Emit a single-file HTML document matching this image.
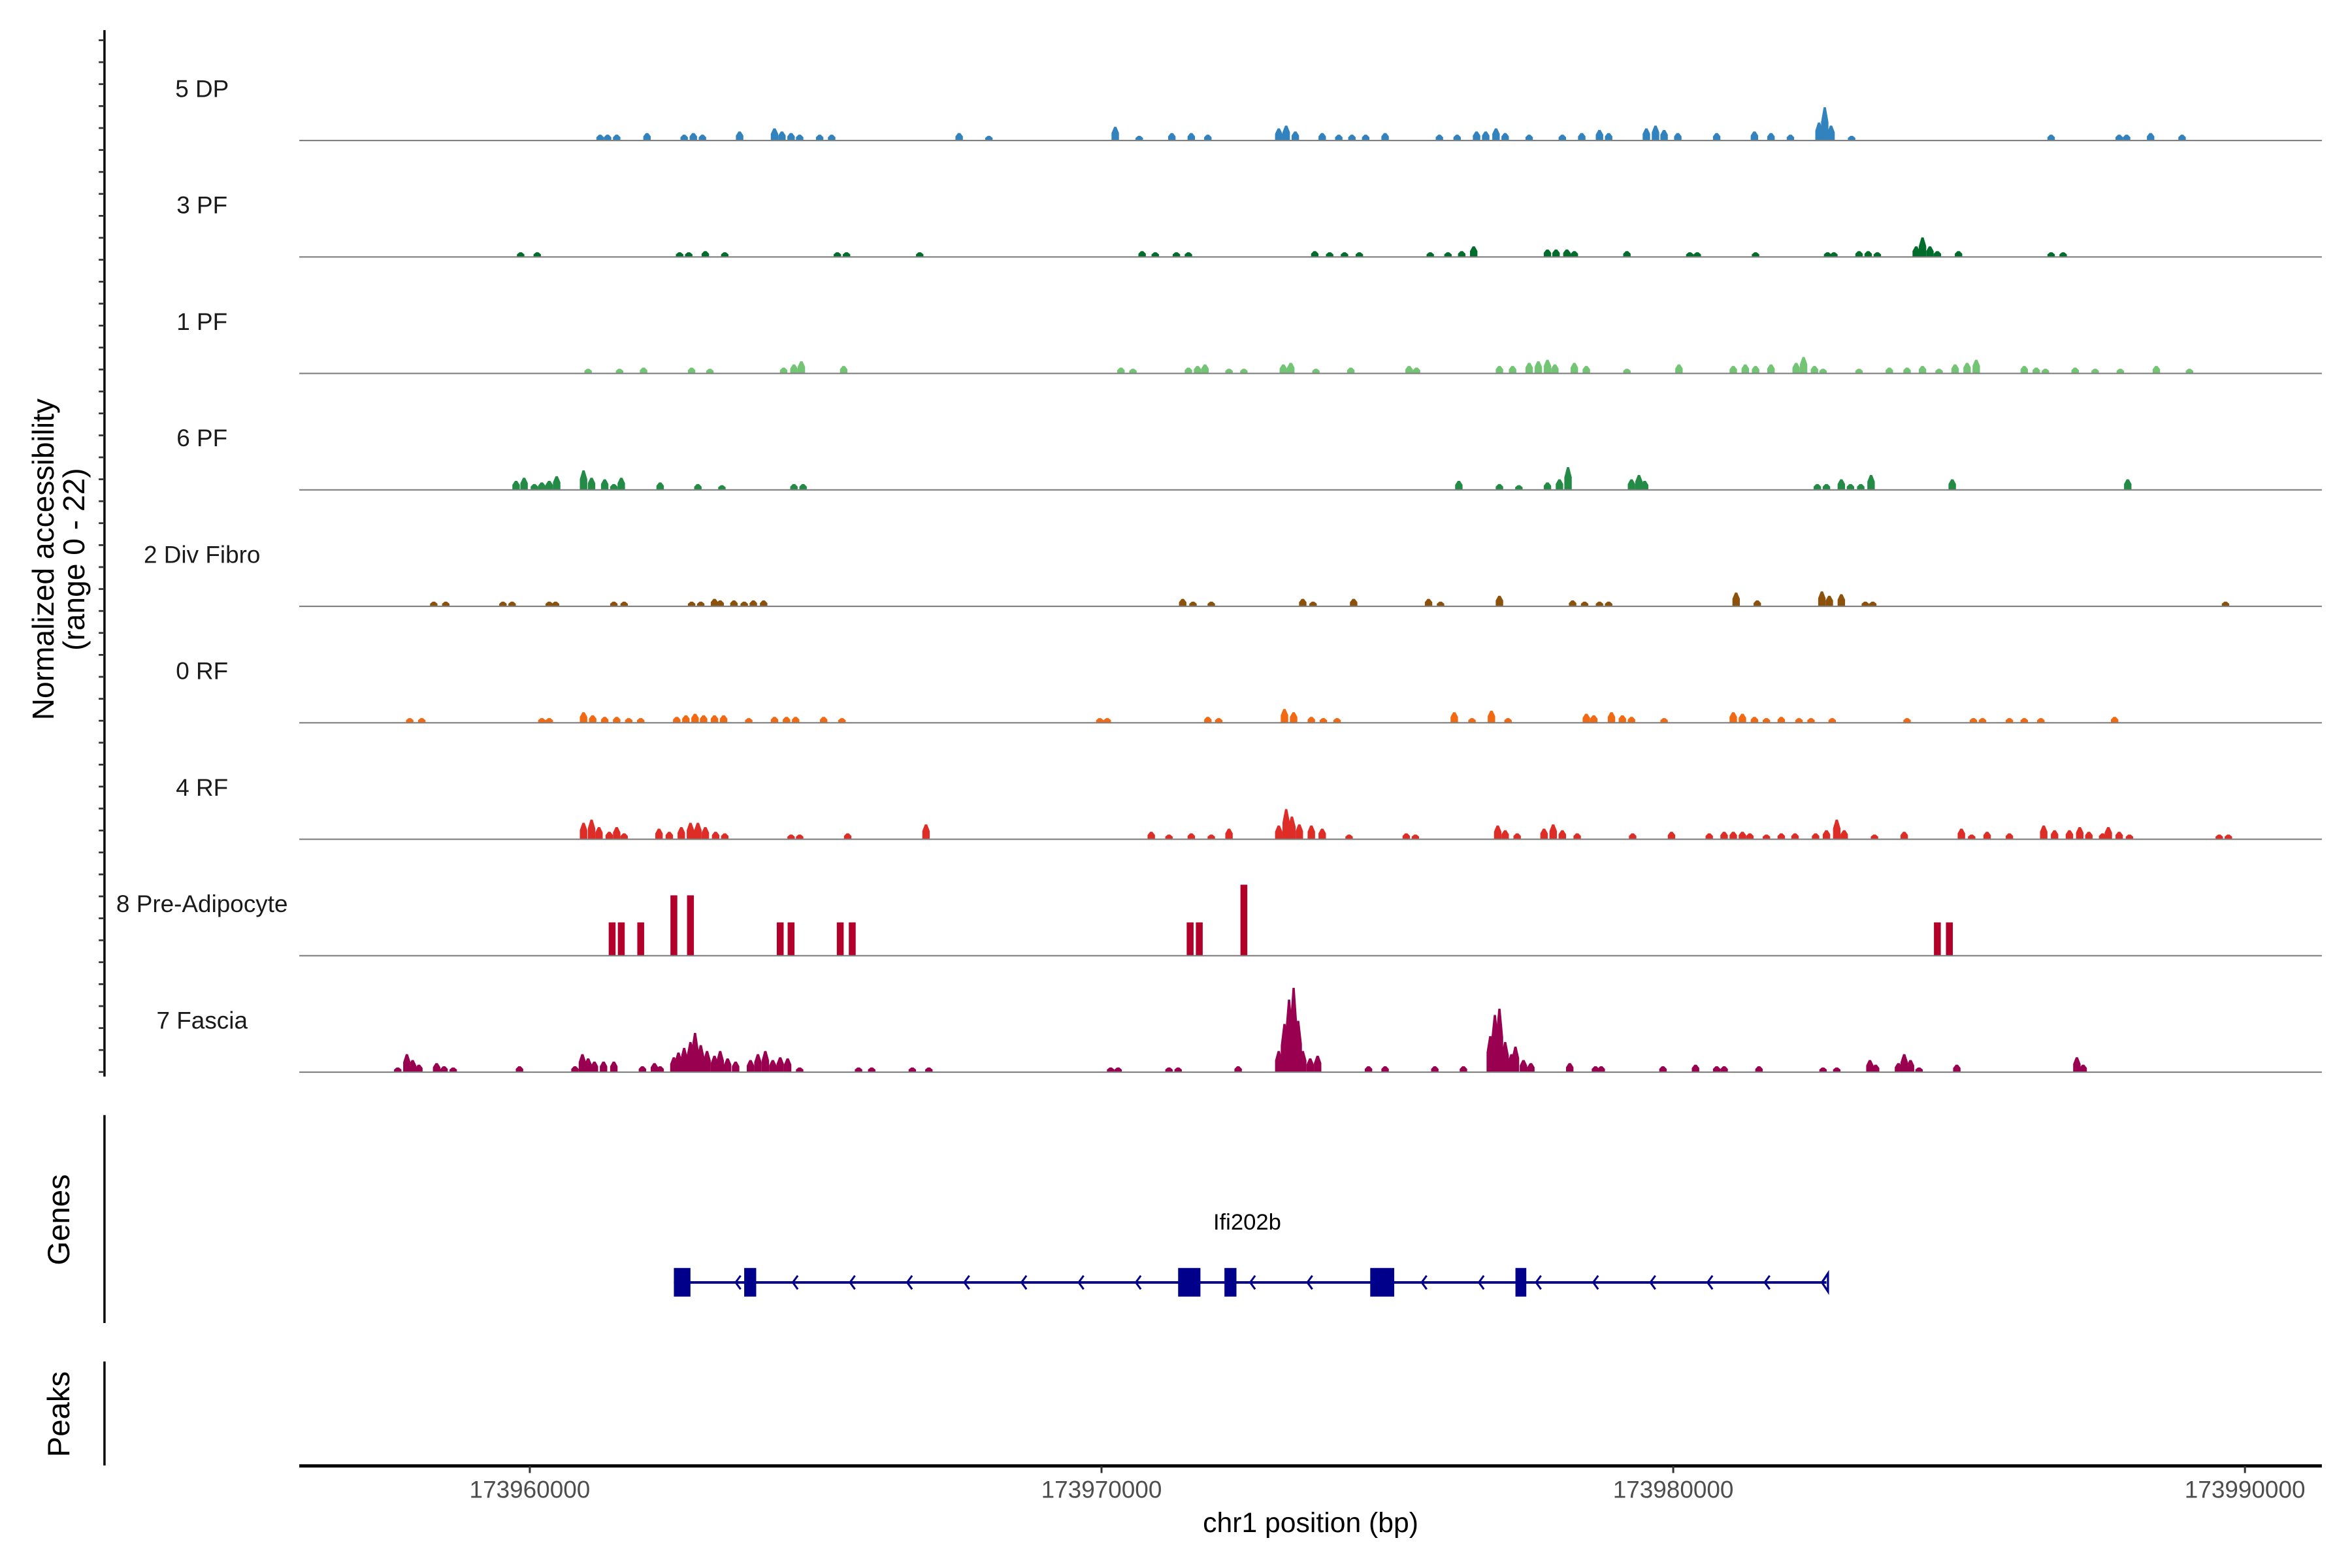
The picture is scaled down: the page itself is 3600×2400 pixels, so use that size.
<!DOCTYPE html>
<html><head><meta charset="utf-8"><style>
html,body{margin:0;padding:0;background:#fff;}
svg{display:block;font-family:"Liberation Sans",Arial,sans-serif;}
</style></head>
<body>
<svg id="chart" width="3600" height="2400" viewBox="0 0 1560 1040" xmlns="http://www.w3.org/2000/svg">
<rect x="0" y="0" width="1560" height="1040" fill="#fff"/>
<g id="tracks"></g>
<g id="axes"></g>
<g id="genes"></g>
</svg>
<script>
// positions in kb offset from chr1:173,900,000 ; heights in normalized accessibility (0-22)
const REGION_BASE = 173900000;
const trackNames = ["5 DP","3 PF","1 PF","6 PF","2 Div Fibro","0 RF","4 RF","8 Pre-Adipocyte","7 Fascia"];
const trackColors = ["#3182bd","#006d2c","#74c476","#238b45","#8c510a","#f16913","#de2d26","#b2002b","#99004f"];
const dpPos = [61.23,61.36,61.52,62.05,62.70,62.86,63.02,63.67,64.28,64.41,64.57,64.72,65.07,65.28,67.51,68.03,70.24,70.66,71.23,71.57,71.86,73.10,73.23,73.39,73.86,74.15,74.38,74.62,74.96,75.91,76.22,76.56,76.72,76.90,77.06,77.48,78.06,78.40,78.71,78.87,79.53,79.69,79.84,80.08,80.76,81.42,81.71,82.05,82.55,82.65,82.76,83.12,86.61,87.80,87.93,88.35,88.90];
const dpVal = [1.5,1.5,1.5,1.9,1.5,1.9,1.5,2.3,3.1,2.3,1.9,1.5,1.5,1.5,1.9,1.2,3.5,1.2,1.9,1.9,1.5,3.1,3.8,2.3,1.9,1.5,1.5,1.5,1.9,1.5,1.5,2.3,2.3,3.1,1.9,1.5,1.5,1.9,2.7,1.9,3.1,3.8,2.7,1.9,1.9,2.3,1.9,1.5,4.6,8.5,3.8,1.2,1.5,1.5,1.5,1.9,1.5];
const pf3Pos = [59.84,60.13,62.62,62.78,63.07,63.41,65.38,65.54,66.82,70.71,70.94,71.31,71.52,73.73,73.99,74.25,74.51,75.75,76.06,76.30,76.51,77.80,77.95,78.14,78.27,79.19,80.29,80.42,81.44,82.70,82.81,83.25,83.41,83.57,84.25,84.36,84.49,84.62,84.99,86.61,86.82];
const pf3Val = [1.2,1.2,1.2,1.2,1.5,1.2,1.2,1.2,1.2,1.5,1.2,1.2,1.2,1.5,1.2,1.2,1.2,1.2,1.2,1.5,2.7,1.9,1.9,1.9,1.5,1.5,1.2,1.2,1.2,1.2,1.2,1.5,1.5,1.2,2.7,5.0,2.7,1.5,1.5,1.2,1.2];
const pf1Pos = [61.02,61.57,61.99,62.83,63.15,64.44,64.62,64.75,65.49,70.34,70.55,71.52,71.68,71.81,72.23,72.49,73.18,73.31,73.75,74.36,75.38,75.51,76.96,77.19,77.48,77.64,77.80,77.93,78.27,78.48,79.19,80.10,81.05,81.26,81.44,81.71,82.15,82.28,82.47,82.62,83.25,83.78,84.09,84.36,84.65,84.93,85.14,85.30,86.14,86.35,86.51,87.03,87.38,87.82,88.45,89.03];
const pf1Val = [1.2,1.2,1.5,1.5,1.2,1.5,2.3,3.1,1.9,1.5,1.2,1.5,1.9,2.3,1.2,1.2,2.3,2.7,1.2,1.5,1.9,1.5,1.9,1.9,2.7,3.1,3.5,2.3,2.7,1.9,1.2,2.3,1.9,2.3,1.9,2.3,2.7,4.2,1.9,1.2,1.2,1.5,1.5,1.9,1.2,2.3,2.7,3.5,1.9,1.5,1.2,1.5,1.2,1.2,1.9,1.2];
const pf6Pos = [59.76,59.90,60.08,60.21,60.34,60.47,60.94,61.08,61.31,61.47,61.60,62.28,62.94,63.36,64.62,64.78,76.25,76.96,77.30,77.80,78.01,78.16,79.27,79.40,79.50,82.52,82.68,82.94,83.10,83.28,83.46,84.88,87.95];
const pf6Val = [2.3,3.1,1.5,1.9,2.3,3.5,5.0,3.1,2.7,1.5,3.1,1.9,1.5,1.2,1.5,1.5,2.3,1.5,1.2,1.9,2.7,5.8,2.7,3.8,2.3,1.5,1.5,2.7,1.5,1.5,3.8,2.7,2.7];
const divPos = [58.32,58.53,59.53,59.69,60.34,60.45,61.47,61.65,62.83,62.99,63.23,63.33,63.57,63.75,63.91,64.09,71.42,71.60,71.92,73.52,73.70,74.41,75.72,75.93,76.96,78.24,78.45,78.71,78.87,81.10,81.47,82.60,82.73,82.94,83.36,83.49,89.66];
const divVal = [1.2,1.2,1.2,1.2,1.2,1.2,1.2,1.2,1.2,1.2,1.9,1.5,1.5,1.2,1.5,1.5,1.9,1.2,1.2,1.9,1.2,1.9,1.9,1.2,2.7,1.5,1.2,1.2,1.2,3.5,1.5,3.8,2.7,3.1,1.2,1.2,1.2];
const rf0Pos = [57.90,58.11,60.21,60.34,60.94,61.10,61.31,61.52,61.73,61.94,62.57,62.73,62.89,63.04,63.23,63.39,63.83,64.28,64.49,64.65,65.14,65.46,69.97,70.10,71.86,72.05,73.20,73.36,73.67,73.88,74.12,76.17,76.48,76.82,77.11,78.48,78.61,78.92,79.11,79.27,79.84,81.05,81.21,81.42,81.63,81.89,82.20,82.41,82.78,84.09,85.25,85.41,85.88,86.14,86.43,87.72];
const rf0Val = [1.2,1.2,1.2,1.2,2.7,1.9,1.5,1.5,1.2,1.2,1.5,1.9,2.3,1.9,1.9,1.9,1.2,1.5,1.5,1.5,1.5,1.2,1.2,1.2,1.5,1.2,3.5,2.7,1.5,1.2,1.2,2.7,1.2,3.1,1.2,2.3,1.9,2.7,1.9,1.5,1.2,2.7,2.3,1.5,1.2,1.5,1.2,1.2,1.2,1.2,1.2,1.2,1.2,1.2,1.2,1.5];
const rf4Pos = [60.94,61.08,61.21,61.39,61.52,61.65,62.26,62.44,62.65,62.81,62.94,63.07,63.25,63.41,64.57,64.72,65.56,66.93,70.87,71.18,71.57,71.92,72.23,73.10,73.23,73.33,73.46,73.67,73.86,74.33,75.33,75.49,76.93,77.06,77.27,77.74,77.90,78.06,78.32,79.29,79.97,80.63,80.89,81.05,81.21,81.34,81.63,81.89,82.13,82.49,82.68,82.86,82.99,83.52,84.04,85.04,85.22,85.49,85.88,86.48,86.67,86.93,87.11,87.27,87.51,87.61,87.80,87.98,89.55,89.71];
const rf4Val = [4.2,5.0,3.1,1.9,3.1,1.5,2.7,1.9,3.1,4.2,4.2,3.1,1.9,1.5,1.2,1.2,1.5,3.8,1.9,1.2,1.5,1.2,2.7,3.5,7.7,5.8,3.8,3.5,2.7,1.2,1.5,1.2,3.5,2.3,1.5,2.7,3.8,2.3,1.5,1.5,1.9,1.5,1.9,1.9,1.9,1.5,1.2,1.5,1.5,1.5,2.3,5.0,2.3,1.2,1.9,2.7,1.2,1.9,1.5,3.5,2.3,2.3,3.1,1.9,1.5,3.1,1.9,1.2,1.2,1.2];
const preAdPos = [61.44,61.60,61.94,62.52,62.81,64.38,64.57,65.43,65.64,71.55,71.71,72.49,84.62,84.83];
const preAdVal = [8.5,8.5,8.5,15.4,15.4,8.5,8.5,8.5,8.5,8.5,8.5,18.1,8.5,8.5];
const fasciaPos = [57.69,57.85,57.95,58.06,58.37,58.50,58.66,59.82,60.79,60.92,61.02,61.13,61.29,61.47,61.97,62.18,62.28,62.52,62.60,62.70,62.81,62.89,62.99,63.10,63.23,63.33,63.46,63.60,63.86,63.99,64.12,64.25,64.38,64.51,64.72,65.75,65.98,66.69,66.98,70.16,70.29,71.18,71.34,72.39,73.10,73.20,73.28,73.36,73.44,73.52,73.65,73.78,74.67,74.96,75.83,76.33,76.80,76.88,76.96,77.06,77.17,77.24,77.38,77.51,78.19,78.64,78.74,79.82,80.39,80.76,80.89,81.50,82.62,82.86,83.44,83.54,83.94,84.04,84.15,84.30,84.96,87.06,87.17];
const fasciaVal = [1.2,4.6,3.1,1.9,2.3,1.5,1.2,1.5,1.5,4.6,3.5,2.7,2.7,2.7,1.5,2.3,1.5,3.8,5.0,6.2,7.7,10.0,6.9,5.4,4.2,5.4,3.5,2.7,3.1,4.6,5.4,3.1,3.8,3.5,1.2,1.2,1.2,1.2,1.2,1.2,1.2,1.2,1.2,1.5,5.4,12.3,18.5,21.5,13.1,5.4,3.5,4.2,1.5,1.5,1.5,1.5,9.2,14.6,16.2,7.7,4.6,6.5,3.1,2.3,2.3,1.5,1.5,1.5,1.9,1.5,1.5,1.5,1.2,1.2,3.1,1.9,2.3,4.6,3.1,1.2,1.9,3.8,1.9];
const trackPos = [dpPos,pf3Pos,pf1Pos,pf6Pos,divPos,rf0Pos,rf4Pos,preAdPos,fasciaPos];
const trackVal = [dpVal,pf3Val,pf1Val,pf6Val,divVal,rf0Val,rf4Val,preAdVal,fasciaVal];
const xTicks = [173960000,173970000,173980000,173990000];
const xTickLabels = ["173960000","173970000","173980000","173990000"];
const geneName = "Ifi202b";
const geneStart = 62.52, geneEnd = 82.68;
const exonStarts = [62.52,63.75,71.34,72.15,74.70,77.24];
const exonEnds = [62.81,63.96,71.73,72.36,75.12,77.43];

const NS = "http://www.w3.org/2000/svg";
function mk(tag, attrs, parent){const e=document.createElementNS(NS,tag);for(const k in attrs)e.setAttribute(k,attrs[k]);parent.appendChild(e);return e;}
const PX_PER_KB = 37.92;
function xKb(kb){return 351.4 + (kb - 60) * PX_PER_KB;}
function xBp(bp){return xKb((bp - REGION_BASE) / 1000);}
const UNIT_PX = 2.6;
function yH(v){return v * UNIT_PX;}
const X0 = 198.5, X1 = 1540;
const baseline0 = 93.2, trackStep = 77.24;

const tracks = document.getElementById('tracks');
trackNames.forEach((name, t) => {
  const b = baseline0 + t * trackStep;
  const g = mk('g', {}, tracks);
  
  
  const lab = mk('text', {x:134, y:b-28.9, 'text-anchor':'middle', 'font-size':16, fill:'#1a1a1a'}, g);
  lab.textContent = name;
  
  
  const pos = trackPos[t], val = trackVal[t];
  const rectMode = (t === 7);
  pos.forEach((p, i) => {
    const x = xKb(p), h = yH(val[i]);
    let el;
    if (rectMode) {
      const w = 0.12 * PX_PER_KB;
      el = mk('rect', {x:x-w/2, y:b-h, width:w, height:h, fill:trackColors[t]}, g);
    } else {
      const w = 0.13 * PX_PER_KB;
      const pts = [[x-w/2,b],[x-w/2,b-h*0.55],[x-w*0.15,b-h],[x+w*0.15,b-h],[x+w/2,b-h*0.55],[x+w/2,b]];
      el = mk('polygon', {points: pts.map(q=>q[0].toFixed(2)+','+q[1].toFixed(2)).join(' '), fill:trackColors[t]}, g);
    }
    
    
  });
  const bl = mk('line', {x1:X0, x2:X1, y1:b, y2:b, stroke:'#7f7f7f', 'stroke-width':0.9}, g);
  
  
});

const axes = document.getElementById('axes');
const ya = mk('line', {x1:69.3, x2:69.3, y1:20, y2:714, stroke:'#000', 'stroke-width':1.5}, axes);


for (let k = 0; k < 48; k++) {
  const y = 711 - k * 14.56;
  if (y < 24) break;
  const tk = mk('line', {x1:65.5, x2:69.3, y1:y, y2:y, stroke:'#333', 'stroke-width':1.2}, axes);
  
  
}
const yt = mk('text', {transform:'translate(35.5,371) rotate(-90)', 'text-anchor':'middle', 'font-size':20, fill:'#000'}, axes);


const t1 = mk('tspan', {x:0, y:0}, yt); t1.textContent = 'Normalized accessibility';
const t2 = mk('tspan', {x:0, y:20.5}, yt); t2.textContent = '(range 0 - 22)';
const ga = mk('line', {x1:69.3, x2:69.3, y1:739.6, y2:877.5, stroke:'#000', 'stroke-width':1.5}, axes);


const gl = mk('text', {transform:'translate(46,809) rotate(-90)', 'text-anchor':'middle', 'font-size':20.5, fill:'#000'}, axes);
gl.textContent = 'Genes';


const pa = mk('line', {x1:69.3, x2:69.3, y1:903, y2:972, stroke:'#000', 'stroke-width':1.5}, axes);


const pl = mk('text', {transform:'translate(46,938) rotate(-90)', 'text-anchor':'middle', 'font-size':20.5, fill:'#000'}, axes);
pl.textContent = 'Peaks';


const xa = mk('line', {x1:X0, x2:X1, y1:972.3, y2:972.3, stroke:'#000', 'stroke-width':2.2}, axes);


xTicks.forEach((v, i) => {
  const x = xBp(v);
  const tk = mk('line', {x1:x, x2:x, y1:972.3, y2:977, stroke:'#333', 'stroke-width':1.3}, axes);
  
  
  const tl = mk('text', {x:x, y:993.5, 'text-anchor':'middle', 'font-size':16, fill:'#4d4d4d'}, axes);
  tl.textContent = xTickLabels[i];
  
  
});
const xt = mk('text', {x:869.3, y:1016.2, 'text-anchor':'middle', 'font-size':18.5, fill:'#000'}, axes);
xt.textContent = 'chr1 position (bp)';



const genes = document.getElementById('genes');
const gy = 850.6, navy = '#00008b';
const gname = mk('text', {x:(xKb(geneStart)+xKb(geneEnd))/2 - 2, y:815.5, 'text-anchor':'middle', 'font-size':15, fill:'#000'}, genes);
gname.textContent = geneName;


const intr = mk('line', {x1:xKb(geneStart), x2:xKb(geneEnd), y1:gy, y2:gy, stroke:navy, 'stroke-width':1.7}, genes);


const endCap = mk('path', {d:`M${xKb(geneEnd)+1},${gy-6} L${xKb(geneEnd)-3},${gy} L${xKb(geneEnd)+1},${gy+6} Z`, fill:'none', stroke:navy, 'stroke-width':1.4}, genes);


for (let k = 63.6; k < geneEnd - 0.3; k += 1.0) {
  const x = xKb(k);
  let inside = false;
  exonStarts.forEach((s, i) => { if (x > xKb(s) - 5 && x < xKb(exonEnds[i]) + 5) inside = true; });
  if (inside) continue;
  const ch = mk('path', {d:`M${x+3.3},${gy-4.5} L${x},${gy} L${x+3.3},${gy+4.5}`, fill:'none', stroke:navy, 'stroke-width':1.3}, genes);
  
  
}
exonStarts.forEach((s, i) => {
  const x0 = xKb(s), x1 = xKb(exonEnds[i]);
  const ex = mk('rect', {x:x0, y:841, width:x1-x0, height:19, fill:navy}, genes);
  
  
});
</script>
</body></html>
